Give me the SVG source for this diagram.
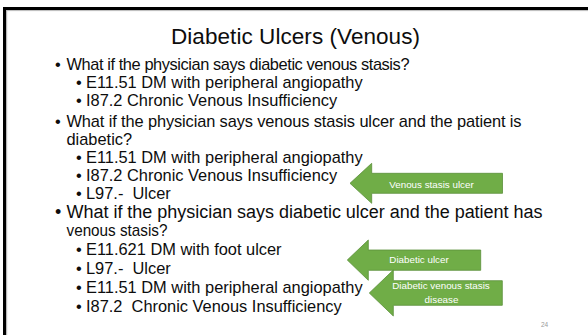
<svg xmlns="http://www.w3.org/2000/svg" width="588" height="335" viewBox="0 0 588 335">
<style>
text{font-family:"Liberation Sans",Arial,sans-serif;fill:#0d0d0d}
.t{font-size:22.5px}
.q{font-size:16.4px}
.q3{font-size:18px}
.s{font-size:16.4px}
.lbl{font-size:9.8px;fill:#ffffff;text-anchor:middle}
.arrow{fill:#70ad47;stroke:#5a8f3a;stroke-width:0.8}
.pg{font-size:6.5px;fill:#9a9a9a}
</style>
<rect x="0" y="0" width="588" height="335" fill="#ffffff"/>
<g id="frame">
<rect x="3" y="7" width="585" height="3.2" fill="#000"/>
<rect x="3" y="7" width="3.3" height="328" fill="#000"/>
<rect x="6.3" y="10.2" width="581.7" height="0.9" fill="#bdbdbd"/>
<rect x="6.3" y="10.2" width="0.9" height="324.8" fill="#bdbdbd"/>
</g>
<g id="title"><text class="t" x="295.5" y="44" text-anchor="middle" textLength="249">Diabetic Ulcers (Venous)</text></g>
<g id="body">
<text class="q" x="55" y="70">•</text><text class="q" x="66.5" y="70" textLength="343">What if the physician says diabetic venous stasis?</text>
<text class="s" x="76" y="88">•</text><text class="s" x="86" y="88">E11.51 DM with peripheral angiopathy</text>
<text class="s" x="76" y="106">•</text><text class="s" x="86" y="106">I87.2 Chronic Venous Insufficiency</text>
<text class="q" x="55" y="127">•</text><text class="q" x="66.5" y="127" textLength="455">What if the physician says venous stasis ulcer and the patient is</text>
<text class="q" x="66.5" y="144.5">diabetic?</text>
<text class="s" x="76" y="163">•</text><text class="s" x="86" y="163">E11.51 DM with peripheral angiopathy</text>
<text class="s" x="76" y="181">•</text><text class="s" x="86" y="181">I87.2 Chronic Venous Insufficiency</text>
<text class="s" x="76" y="199">•</text><text class="s" x="86" y="199" xml:space="preserve">L97.-  Ulcer</text>
<text class="q3" x="55" y="218">•</text><text class="q3" x="66.5" y="218" textLength="476">What if the physician says diabetic ulcer and the patient has</text>
<text class="q3" x="66.5" y="236" style="font-size:17px" textLength="101" lengthAdjust="spacingAndGlyphs">venous stasis?</text>
<text class="s" x="76" y="255">•</text><text class="s" x="86" y="255">E11.621 DM with foot ulcer</text>
<text class="s" x="76" y="274">•</text><text class="s" x="86" y="274" xml:space="preserve">L97.-  Ulcer</text>
<text class="s" x="76" y="293">•</text><text class="s" x="86" y="293">E11.51 DM with peripheral angiopathy</text>
<text class="s" x="76" y="312">•</text><text class="s" x="86" y="312" xml:space="preserve">I87.2  Chronic Venous Insufficiency</text>
</g>
<g id="connectors">
<g id="arrow-venous-stasis-ulcer">
<polygon class="arrow" points="350,183.3 371.7,163.3 371.7,173.3 502.5,173.3 502.5,193.3 371.7,193.3 371.7,203.3"/>
<text class="lbl" x="431.5" y="187.5">Venous stasis ulcer</text>
</g>
<g id="arrow-diabetic-ulcer">
<polygon class="arrow" points="347.3,260 368.3,240 368.3,250 480.7,250 480.7,270.3 368.3,270.3 368.3,280.3"/>
<text class="lbl" x="419" y="263.3">Diabetic ulcer</text>
</g>
<g id="arrow-diabetic-venous-stasis">
<polygon class="arrow" points="369.3,293 393.3,270 393.3,280.7 502.3,280.7 502.3,305.3 393.3,305.3 393.3,316"/>
<text class="lbl" x="441" y="289.3">Diabetic venous stasis</text>
<text class="lbl" x="441.5" y="303.3">disease</text>
</g>
</g>
<text class="pg" x="541" y="326.7">24</text>
</svg>
